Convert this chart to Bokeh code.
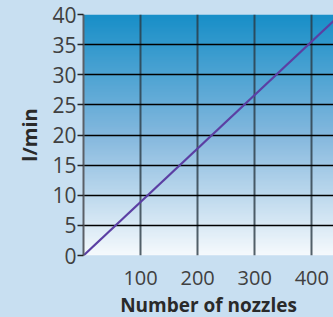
import numpy as np
from bokeh.plotting import figure
from bokeh.models import FixedTicker, Range1d, GlobalInlineStyleSheet
from bokeh.embed import file_html
from bokeh.resources import INLINE

# Data
nozzles = [0, 450]
flow_lpm = [0, 40]
x_ticks = [100, 200, 300, 400]
y_ticks = [0, 5, 10, 15, 20, 25, 30, 35, 40]
y_grid = [0, 5, 10, 15, 20, 25, 30, 35]

X_MAX = 438
Y_MAX = 40
BG = "#c8dff1"
FONT = "Open Sans"

p = figure(frame_width=250, frame_height=241, output_backend="svg",
           toolbar_location=None, x_range=Range1d(0, X_MAX), y_range=Range1d(0, Y_MAX),
           min_border_left=83, min_border_right=0, min_border_top=14, min_border_bottom=62)
p.stylesheets = [GlobalInlineStyleSheet(css=f"html, body{{background:{BG};}}")]
p.background_fill_color = BG
p.border_fill_color = BG
p.outline_line_color = None

# gradient background (style only)
n = 200
top = np.array([0x18, 0x8f, 0xc8], dtype=float)
mid = np.array([0x84, 0xb8, 0xde], dtype=float)
bot = np.array([0xf6, 0xfa, 0xfd], dtype=float)
t = np.linspace(0, 1, n)
cols = np.zeros((n, 3))
for i, tt in enumerate(t):
    if tt < 0.5:
        cols[i] = bot + (mid - bot) * (tt / 0.5)
    else:
        cols[i] = mid + (top - mid) * ((tt - 0.5) / 0.5)
img = np.zeros((n, 1), dtype=np.uint32)
view = img.view(dtype=np.uint8).reshape((n, 1, 4))
view[:, 0, 0] = cols[:, 0].astype(np.uint8)
view[:, 0, 1] = cols[:, 1].astype(np.uint8)
view[:, 0, 2] = cols[:, 2].astype(np.uint8)
view[:, 0, 3] = 255
p.image_rgba(image=[img], x=0, y=0, dw=X_MAX, dh=Y_MAX, level="image")

# grid
p.xgrid.ticker = FixedTicker(ticks=x_ticks)
p.xgrid.grid_line_color = "#2b3a44"
p.xgrid.grid_line_width = 2
p.xgrid.grid_line_alpha = 0.8
p.ygrid.ticker = FixedTicker(ticks=y_grid)
p.ygrid.grid_line_color = "#000000"
p.ygrid.grid_line_width = 1.5
p.xgrid.level = "underlay"
p.ygrid.level = "underlay"

p.line(nozzles, flow_lpm, line_color="#5b3fa3", line_width=2.2)

# axes
xa = p.xaxis[0]
xa.ticker = FixedTicker(ticks=x_ticks)
xa.axis_line_color = None
xa.major_tick_line_color = None
xa.minor_tick_line_color = None
xa.major_label_text_font = FONT
xa.major_label_text_font_size = "20px"
xa.major_label_text_color = "#404040"
xa.major_label_standoff = 9
xa.axis_label = "Number of nozzles"
xa.axis_label_text_font = FONT
xa.axis_label_text_font_size = "19px"
xa.axis_label_text_font_style = "bold"
xa.axis_label_text_color = "#2a2a2a"
xa.axis_label_standoff = 4

ya = p.yaxis[0]
ya.ticker = FixedTicker(ticks=y_ticks)
ya.axis_line_color = "#5a5f66"
ya.axis_line_width = 2
ya.major_tick_line_color = "#222222"
ya.major_tick_line_width = 1.5
ya.major_tick_in = 0
ya.major_tick_out = 6
ya.minor_tick_line_color = None
ya.major_label_text_font = FONT
ya.major_label_text_font_size = "21px"
ya.major_label_text_color = "#404040"
ya.major_label_standoff = 1
ya.axis_label = "l/min"
ya.axis_label_text_font = FONT
ya.axis_label_text_font_size = "20px"
ya.axis_label_text_font_style = "bold"
ya.axis_label_text_color = "#2a2a2a"
ya.axis_label_standoff = 6

open("out.html", "w").write(file_html(p, INLINE))
